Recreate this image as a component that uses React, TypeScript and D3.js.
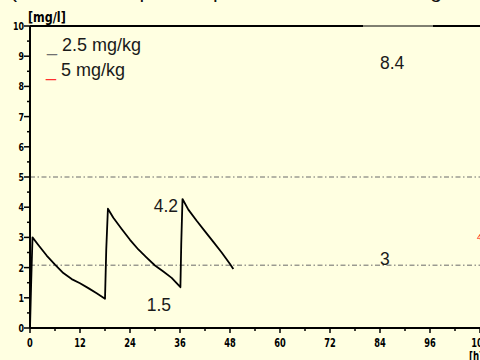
import React from "react";
import * as d3 from "d3";

const W = 480;
const H = 360;

// concentration-time curve (2.5 mg/kg), hours vs mg/l
const timeH = [0, 0.3, 0.6, 2, 4, 6, 8, 10, 12, 14, 16, 17, 18,
  18.3, 18.7, 20, 22, 24, 26, 28, 30, 32, 34, 36.1,
  36.3, 36.6, 38, 40, 42, 44, 46, 48, 48.8];
const concMg = [0, 1.6, 3.0, 2.75, 2.4, 2.1, 1.82, 1.62, 1.48, 1.32, 1.15, 1.06, 0.97,
  2.6, 3.95, 3.65, 3.28, 2.92, 2.6, 2.33, 2.07, 1.87, 1.66, 1.35,
  2.8, 4.27, 3.92, 3.55, 3.2, 2.85, 2.5, 2.12, 1.95];

const refLevels = [5, 2.08];
const xTicks = [0, 12, 24, 36, 48, 60, 72, 84, 96, 108];
const xMinor = [6, 18, 30, 42, 54, 66, 78, 90, 102];
const yTicks = [0, 1, 2, 3, 4, 5, 6, 7, 8, 9, 10];
const yMinor = [0.5, 1.5, 2.5, 3.5, 4.5, 5.5, 6.5, 7.5, 8.5, 9.5];

const noteText = ["8.4", "4.2", "1.5", "3"];
const noteT = [84, 29.7, 28, 84];
const noteC = [8.58, 3.84, 0.56, 2.1];

const legendLabels = ["2.5 mg/kg", "5 mg/kg"];
const legendColors = ["#707070", "#ff3030"];

const x = d3.scaleLinear().domain([0, 108]).range([30, 480]);
const y = d3.scaleLinear().domain([0, 10]).range([328, 26]);

const line = d3
  .line<number>()
  .x((_, i) => x(timeH[i]))
  .y((d) => y(d));

const tickFont = "'DejaVu Sans', 'Liberation Sans', sans-serif";
const textFont = "'Liberation Sans', Arial, sans-serif";

function Narrow(props: { x: number; y: number; size: number; sx?: number; anchor?: string; children: any }) {
  return (
    <text
      transform={`translate(${props.x},${props.y}) scale(${props.sx || 0.72},1)`}
      textAnchor={props.anchor || "start"}
      fontSize={props.size}
      fontWeight="bold"
      fontFamily={tickFont}
      fill="#000"
    >
      {props.children}
    </text>
  );
}

export default function App() {
  return (
    <div style={{ position: "fixed", left: 0, top: 0, width: W, height: H }}>
      <svg width={W} height={H} style={{ display: "block", background: "#ffffe1" }}>
        <rect x={0} y={0} width={W} height={H} fill="#ffffe1" />
        {/* clipped title */}
        <text x={10} y={-2} fontSize={21} fontFamily={textFont} fill="#111">
          (Mean serum plasma profile after the iv dosing
        </text>

        {/* top frame line */}
        <line x1={x(0)} x2={363} y1={y(10)} y2={y(10)} stroke="#000" strokeWidth={2.2} />
        <line x1={363} x2={433} y1={y(10)} y2={y(10)} stroke="#000" strokeWidth={1} />
        <line x1={433} x2={W} y1={y(10)} y2={y(10)} stroke="#000" strokeWidth={2.2} />

        {/* reference dash-dot lines */}
        {refLevels.map((v, i) => (
          <line key={i} x1={x(0)} x2={W} y1={y(v)} y2={y(v)} stroke="#6a6a6a" strokeWidth={1}
            strokeDasharray="5,2.5,1.5,2.5" />
        ))}

        {/* curve */}
        <path d={line(concMg) || ""} fill="none" stroke="#000" strokeWidth={1.8} strokeLinejoin="round" />

        {/* y axis */}
        <line x1={x(0)} x2={x(0)} y1={y(10)} y2={y(0)} stroke="#000" strokeWidth={2} />
        {yTicks.map((t) => (
          <g key={t}>
            <line x1={x(0) - 6} x2={x(0)} y1={y(t)} y2={y(t)} stroke="#000" strokeWidth={1.5} />
            <Narrow x={x(0) - 6} y={y(t) + 4} size={11} anchor="end">{t}</Narrow>
          </g>
        ))}
        {yMinor.map((t) => (
          <line key={t} x1={x(0) - 3} x2={x(0)} y1={y(t)} y2={y(t)} stroke="#000" strokeWidth={1.5} />
        ))}

        {/* x axis */}
        <line x1={x(0)} x2={W} y1={y(0)} y2={y(0)} stroke="#000" strokeWidth={2} />
        {xTicks.map((t) => (
          <g key={t}>
            <line x1={x(t)} x2={x(t)} y1={y(0)} y2={y(0) + 5} stroke="#000" strokeWidth={1.5} />
            <Narrow x={x(t)} y={y(0) + 19} size={11.5} anchor="middle">{t}</Narrow>
          </g>
        ))}
        {xMinor.map((t) => (
          <line key={t} x1={x(t)} x2={x(t)} y1={y(0)} y2={y(0) + 3} stroke="#000" strokeWidth={1.5} />
        ))}

        {/* axis units */}
        <Narrow x={28} y={22} size={14} sx={0.8}>[mg/l]</Narrow>
        <Narrow x={469} y={360} size={12}>[h]</Narrow>

        {/* legend */}
        {legendLabels.map((l, i) => (
          <text key={l} x={47 - i} y={51 + i * 25} fontSize={18} fontFamily={textFont} fill="#1a1a1a">
            <tspan fill={legendColors[i]}>_</tspan>
            <tspan> {l}</tspan>
          </text>
        ))}

        {/* annotations */}
        {noteText.map((s, i) => (
          <text key={i} x={x(noteT[i])} y={y(noteC[i])} fontSize={17.5} fontFamily={textFont} fill="#1a1a1a">
            {s}
          </text>
        ))}

        {/* clipped red mark at right edge */}
        <text x={477} y={240} fontSize={9} fontFamily={textFont} fill="#ff0000">4</text>
      </svg>
    </div>
  );
}
